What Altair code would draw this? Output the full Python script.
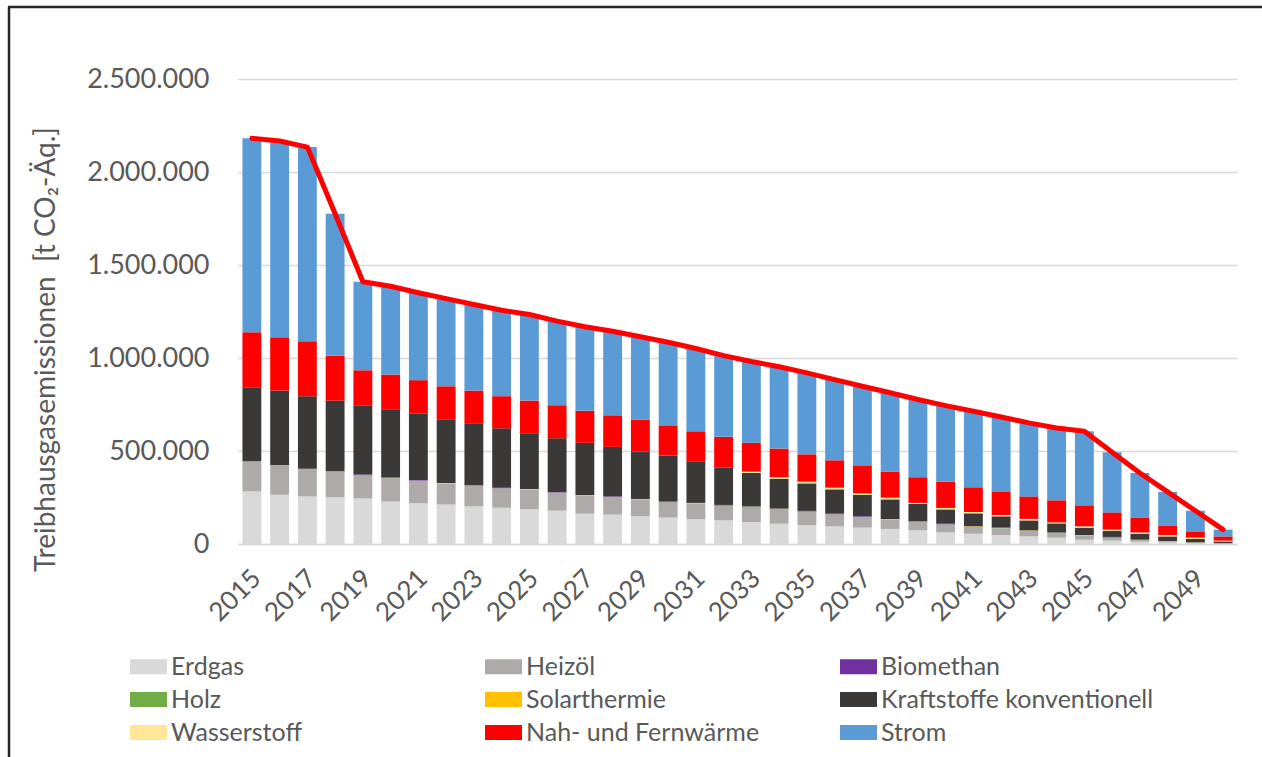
import altair as alt
import pandas as pd

# Greenhouse-gas emissions by energy source, 2015-2050 (t CO2-equivalent)
years = list(range(2015, 2051))

erdgas = [283, 265, 256, 251, 244, 228, 219, 212, 202, 195, 188, 179, 163, 158, 149, 142, 134, 127,
          118, 109, 102, 95, 88, 81, 73, 62, 55, 48, 41, 34, 23, 18, 12, 8, 4, 2]
heizoel = [162, 156, 149, 140, 125, 126, 122, 114, 111, 105, 103, 98, 99, 95, 91, 84, 85, 80,
           81, 79, 73, 65, 58, 51, 46, 44, 38, 37, 30, 25, 23, 17, 9, 6, 4, 2]
biomethan = [0, 0, 0, 0, 5, 0, 3, 0, 0, 3, 0, 3, 0, 3, 0, 3, 0, 3,
             0, 0, 3, 3, 3, 0, 0, 3, 0, 0, 0, 0, 0, 3, 0, 0, 0, 1]
holz = [0, 0, 0, 0, 0, 4, 0, 0, 3, 0, 0, 0, 0, 0, 0, 0, 0, 0,
        3, 0, 0, 0, 0, 0, 3, 0, 0, 3, 0, 3, 0, 0, 0, 2, 0, 0]
solarthermie = [0, 2, 0, 0, 0, 0, 0, 2, 0, 0, 5, 0, 2, 0, 2, 0, 2, 0,
                0, 2, 0, 0, 0, 2, 0, 0, 2, 0, 2, 0, 2, 0, 2, 0, 1, 0]
kraftstoffe = [398, 402, 389, 380, 372, 366, 357, 343, 330, 319, 296, 288, 280, 266, 256, 246, 224, 202,
               180, 160, 148, 131, 115, 106, 93, 77, 70, 61, 54, 49, 40, 32, 32, 25, 19, 9]
wasserstoff = [0, 0, 0, 0, 0, 0, 0, 0, 0, 0, 0, 0, 0, 0, 0, 0, 0, 0,
               7, 9, 9, 9, 8, 9, 6, 8, 7, 7, 8, 5, 7, 7, 7, 7, 6, 4]
fernwaerme = [296, 287, 296, 242, 188, 187, 180, 177, 179, 173, 179, 178, 172, 170, 171, 163, 161, 164,
              156, 154, 147, 147, 148, 140, 138, 141, 133, 124, 121, 119, 113, 93, 78, 52, 34, 23]
strom = [1042, 1055, 1044, 763, 476, 475, 470, 471, 463, 462, 463, 452, 452, 452, 445, 447, 445, 437,
         436, 440, 438, 434, 428, 424, 418, 409, 409, 403, 395, 389, 398, 323, 242, 180, 111, 36]

categories = ["Erdgas", "Heizöl", "Biomethan", "Holz", "Solarthermie",
              "Kraftstoffe konventionell", "Wasserstoff", "Nah- und Fernwärme", "Strom"]
colors = ["#D9D9D9", "#AEAAAA", "#7030A0", "#70AD47", "#FFC000",
          "#3B3838", "#FFE699", "#FF0000", "#5B9BD5"]
series = [erdgas, heizoel, biomethan, holz, solarthermie,
          kraftstoffe, wasserstoff, fernwaerme, strom]

rows = []
for ci, (cat, vals) in enumerate(zip(categories, series)):
    for yr, v in zip(years, vals):
        rows.append({"Jahr": str(yr), "Quelle": cat, "idx": ci, "Wert": v * 1000})
df = pd.DataFrame(rows)

totals = pd.DataFrame({
    "Jahr": [str(y) for y in years],
    "Summe": [sum(s[i] for s in series) * 1000 for i in range(len(years))],
})

FONT = "Lato"
TXT = "#595959"
GRID = "#D9D9D9"

x_enc = alt.X(
    "Jahr:O",
    scale=alt.Scale(paddingInner=0.32, paddingOuter=0.16),
    axis=alt.Axis(
        title=None,
        values=[str(y) for y in years if y % 2 == 1],
        labelAngle=-45,
        labelAlign="right",
        labelBaseline="middle",
        labelFont=FONT,
        labelFontSize=26,
        labelColor=TXT,
        labelPadding=30,
        labelOffset=5,
        ticks=False,
        domainColor=GRID,
        domainWidth=1.5,
        grid=False,
    ),
)

bars = alt.Chart(df).mark_bar().encode(
    x=x_enc,
    y=alt.Y(
        "Wert:Q",
        stack="zero",
        scale=alt.Scale(domain=[0, 2500000], nice=False),
        axis=alt.Axis(
            title="Treibhausgasemissionen\u00a0 [t CO₂-Äq.]",
            values=[0, 500000, 1000000, 1500000, 2000000, 2500000],
            labelExpr="replace(format(datum.value, ','), /,/g, '.')",
            labelFont=FONT,
            labelFontSize=27,
            labelColor=TXT,
            labelPadding=29,
            ticks=False,
            domain=False,
            gridColor=GRID,
            gridWidth=1.5,
            titleFont=FONT,
            titleFontSize=28,
            titleFontWeight="normal",
            titleColor=TXT,
            titleAngle=270,
            titleAlign="center",
            titleBaseline="middle",
            titleX=-192,
            titleY=270,
        ),
    ),
    color=alt.Color(
        "Quelle:N",
        scale=alt.Scale(domain=categories, range=colors),
        sort=categories,
        legend=alt.Legend(
            title=None,
            orient="none",
            direction="horizontal",
            legendX=-108,
            legendY=569,
            columns=3,
            gridAlign="all",
            columnPadding=41,
            rowPadding=1,
            symbolType="M-1,-0.4H1V0.4H-1Z",
            symbolSize=1369,
            symbolStrokeWidth=0,
            symbolOpacity=1,
            labelFont=FONT,
            labelFontSize=25,
            labelColor=TXT,
            labelOffset=4,
            labelLimit=400,
        ),
    ),
    order=alt.Order("idx:Q", sort="ascending"),
)

line = alt.Chart(totals).mark_line(color="#FF0000", strokeWidth=5, strokeCap="round",
                                   strokeJoin="round").encode(
    x=alt.X("Jahr:O"),
    y=alt.Y("Summe:Q"),
)

# outer frame of the figure
frame_data = alt.Data(values=[{"k": 1}])
frame_left = alt.Chart(frame_data).mark_rule(color="#262626", strokeWidth=2.5).encode(
    x=alt.value(-229), y=alt.value(-72), y2=alt.value(700))
frame_top = alt.Chart(frame_data).mark_rule(color="#262626", strokeWidth=2.5).encode(
    x=alt.value(-230), x2=alt.value(1040), y=alt.value(-72))

chart = alt.layer(bars, line, frame_left, frame_top).properties(
    width=999,
    height=465,
    autosize=alt.AutoSizeParams(type="none"),
    padding={"left": 238, "top": 79, "right": 25, "bottom": 213},
    background="white",
).configure_view(stroke=None)

chart.save("out.html", embed_options={"renderer": "svg", "actions": False})
